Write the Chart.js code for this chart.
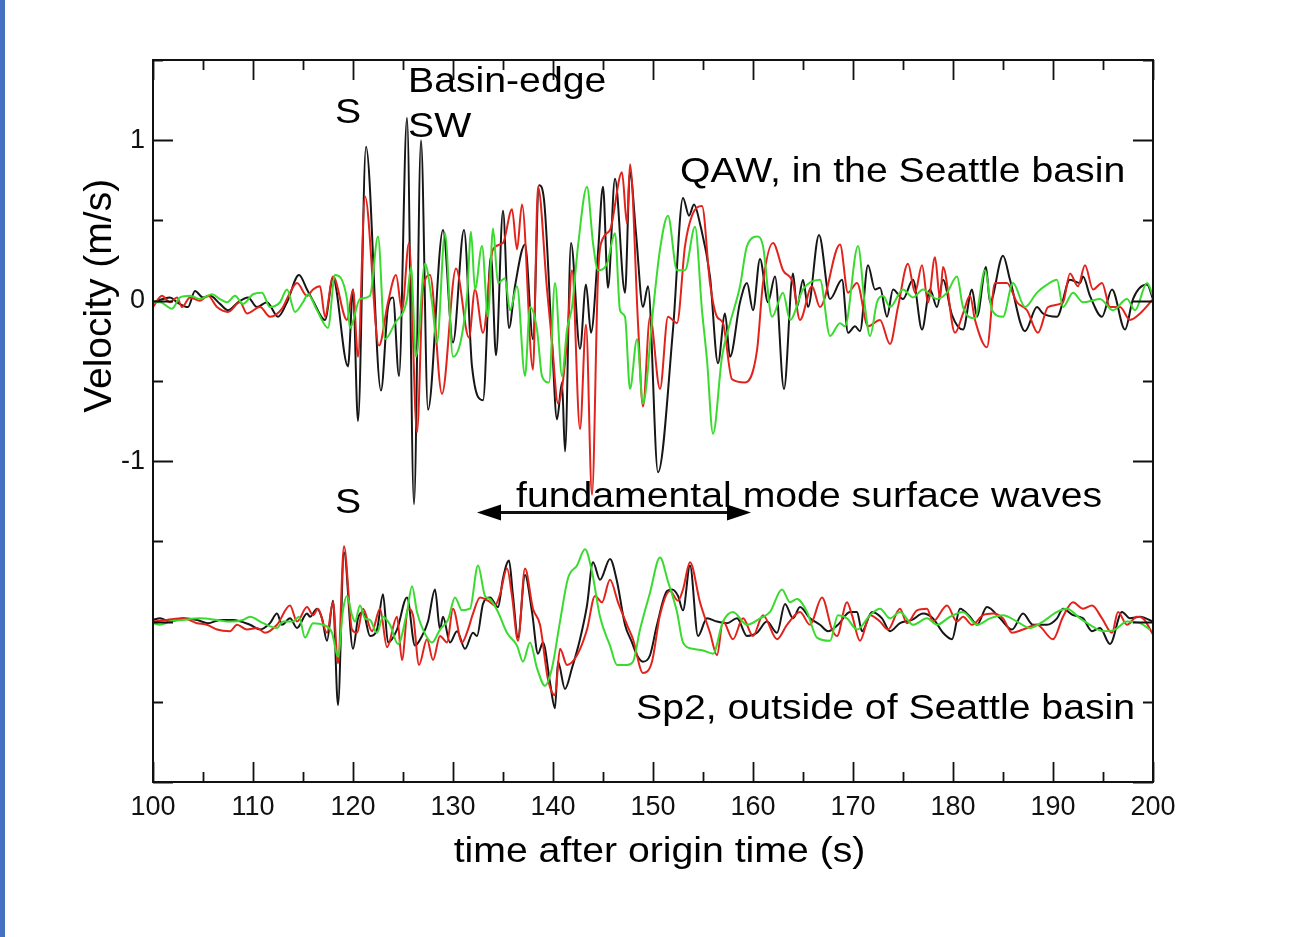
<!DOCTYPE html>
<html>
<head>
<meta charset="utf-8">
<title>QAW vs Sp2 velocity</title>
<script src="https://cdn.jsdelivr.net/npm/chart.js@4"></script>
<style>
  html, body { margin: 0; padding: 0; background: #fff; }
  #wrap { width: 1297px; height: 937px; }
</style>
</head>
<body>
<div id="wrap"><canvas id="seismo" width="1297" height="937"></canvas></div>
<script>
// =====================================
// DATA  (time s, velocity m/s)
// =====================================

const timeTickLabels = [100, 110, 120, 130, 140, 150, 160, 170, 180, 190, 200];
const velocityTickLabels = [1, 0, -1];

// Sp2 traces are plotted shifted down by this amount
const sp2Offset = -2;

// QAW, in the Seattle basin
const qawBlack = [
  [100,-0.01],[101,0.01],[101.7,0.02],[102.4,-0.01],[103.5,-0.04],[104.2,0.06],[105,0.02],[105.7,0.03],
  [106.7,-0.02],[107.5,-0.06],[108.5,-0.01],[109.5,0.02],[110.4,-0.04],[111.4,-0.01],[112.5,-0.1],[113.4,-0.01],
  [114.6,0.16],[115.4,0.07],[116,0],[117.2,-0.12],[118,0.14],[119.5,-0.41],[120,0.07],[120.5,-0.75],
  [121.3,0.96],[122.8,-0.56],[123.5,-0.04],[124,0.02],[124.6,-0.47],[125.4,1.14],[126.1,-1.27],[126.8,1.0],
  [127.5,-0.68],[129,0.44],[130,-0.26],[131.1,0.44],[131.9,-0.41],[133,-0.62],[133.8,0.28],[134.3,-0.34],
  [135,0.56],[135.6,-0.17],[136.2,0.09],[137.2,0.35],[138,-0.24],[138.6,0.72],[139.1,0.63],[139.9,-0.26],
  [140.4,-0.74],[140.9,-0.51],[141.2,-0.94],[141.8,0.36],[142.7,-0.3],[143.3,0.1],[143.8,-0.2],[144.5,0.3],
  [145,0.71],[145.5,0.08],[146.2,0.76],[147.2,0.05],[147.7,0.8],[148.3,0.42],[149,-0.04],[149.5,0.09],
  [150.5,-1.07],[152,-0.18],[153,0.64],[153.6,0.53],[154.1,0.6],[154.7,0.48],[155.7,0.15],[156.5,-0.39],
  [157.2,-0.08],[157.7,-0.35],[158.7,-0.01],[159.4,0.11],[160,-0.06],[160.7,0.26],[161.5,-0.01],[162.2,0.15],
  [163.1,-0.55],[164,0.17],[164.4,-0.04],[165,0.13],[165.5,-0.04],[166.6,0.41],[167.7,0.01],[168.9,0.13],
  [169.5,-0.2],[170.2,-0.16],[170.7,-0.19],[171.5,0.22],[172.2,0.07],[172.7,0.08],[173.4,-0.1],[174,0.07],
  [175,0.01],[176,0.13],[176.9,-0.18],[177.7,0.07],[178.4,-0.04],[179,0.13],[179.9,-0.09],[181,-0.18],
  [181.9,0.07],[182.4,-0.1],[183.3,0.21],[183.7,-0.01],[185,0.28],[185.7,0.13],[187.2,-0.19],[188.4,-0.04],
  [189,-0.08],[190.4,-0.1],[191.7,0.13],[192.7,0.11],[193,0.15],[193.7,0.03],[194.9,-0.1],[195.9,0.07],
  [197.2,-0.18],[198,0.01],[199.4,0.1],[200,0.01]
];

const qawRed = [
  [100,-0.04],[100.9,0.03],[101.7,-0.01],[102.4,0.02],[102.9,-0.04],[103.7,0.02],[104.7,0],[105.5,0.03],
  [106.4,-0.04],[107.5,-0.07],[108.7,-0.01],[109.4,-0.08],[110.7,-0.04],[111.7,-0.1],[112.9,-0.05],[113.7,0.05],
  [114.4,0.11],[115.4,0.03],[116,0.07],[116.7,0.09],[117.2,-0.1],[118,0.15],[119.4,-0.12],[120,0.07],
  [120.5,-0.35],[121.2,0.65],[122.6,-0.28],[123.5,-0.01],[124.3,0.16],[124.9,-0.06],[125.6,0.36],[126.4,-0.82],
  [127,0.07],[127.7,0.16],[128.9,-0.58],[130.3,0.2],[131.6,-0.23],[132.2,0.07],[133,-0.2],[134,0.32],
  [135,0.36],[135.9,0.57],[136.4,0.32],[136.9,0.6],[138,-0.43],[138.5,0.71],[139.4,0.07],[139.9,-0.26],
  [140.5,-0.64],[141.4,-0.26],[141.9,0.19],[142.7,-0.8],[143.3,-0.15],[143.9,-1.21],[144.5,0.15],[145,0.39],
  [145.7,0.44],[146.9,0.8],[147.4,0.48],[147.7,0.85],[148.5,-0.14],[149,-0.66],[149.7,-0.1],[150.7,-0.55],
  [151.5,-0.1],[152.4,-0.14],[153.2,0.34],[153.9,0.53],[154.9,0.59],[155.7,0.11],[156.4,-0.1],[157,-0.14],
  [157.9,-0.49],[159.2,-0.51],[160.4,-0.31],[161,0.11],[162,0.36],[163,0.19],[164,0.11],[164.7,-0.12],
  [165.9,0.09],[166.7,-0.04],[168.7,0.35],[169.5,0.05],[170.4,0.11],[171.5,-0.16],[172.7,-0.12],[173.7,-0.27],
  [174.5,-0.04],[175.5,0.23],[176.2,0.05],[176.9,0.22],[177.5,-0.01],[178.2,0.27],[178.7,0.01],[179,0.21],
  [180.2,-0.2],[181,-0.08],[181.7,0.03],[182.2,-0.12],[183.4,-0.29],[184.2,0.11],[185.4,0.11],[186.4,-0.01],
  [187.4,-0.06],[188.5,-0.2],[189.5,-0.04],[191,-0.01],[191.7,0.17],[192.5,0.09],[193.2,0.22],[194,0.07],
  [194.9,0.11],[195.7,-0.04],[196.7,-0.04],[197.7,-0.12],[198.7,-0.08],[200,0.01]
];

const qawGreen = [
  [100,-0.01],[100.7,-0.01],[101.9,-0.05],[102.7,0.02],[103.7,0.03],[104.7,0.01],[105.9,0.04],[106.7,0.01],
  [107.4,-0.01],[108.2,0.03],[109,-0.02],[110,0.04],[110.9,0.05],[111.7,-0.04],[112.7,-0.01],[113.4,0.07],
  [114.2,-0.07],[115,-0.01],[115.5,0.04],[116.4,-0.06],[117.5,-0.17],[118.2,0.16],[119.4,0.01],[119.7,-0.17],
  [120.7,0.01],[121.7,0.03],[122.5,0.4],[123.2,-0.24],[124.2,-0.14],[125.4,0.01],[125.8,0.21],[126.3,-0.35],
  [127.2,0.23],[127.9,-0.01],[128.4,-0.26],[129.2,0.42],[130,-0.35],[131.4,0.03],[131.8,0.43],[132.2,0.07],
  [132.9,0.34],[133.5,-0.1],[134,0.45],[134.5,0.11],[135.2,0.14],[135.7,-0.06],[136.4,0.09],[137.2,-0.47],
  [137.7,-0.04],[138.4,-0.18],[138.9,-0.47],[139.6,-0.51],[140.2,0.11],[140.9,-0.47],[141.4,-0.18],[141.9,-0.04],
  [142.5,0.34],[143.4,0.71],[144,0.36],[144.5,0.19],[145.4,0.23],[146.2,0.42],[146.7,-0.06],[147.2,-0.1],
  [147.7,-0.55],[148.4,-0.24],[149,-0.64],[150,-0.06],[150.7,0.32],[151.5,0.53],[152.4,0.19],[153.2,0.19],
  [154.2,0.46],[154.9,-0.06],[155.4,-0.37],[156,-0.83],[156.9,-0.35],[157.7,-0.14],[158.7,0.09],[159.4,0.34],
  [160.5,0.4],[161,0.34],[161.9,-0.1],[163,0.05],[163.7,-0.12],[165,0.07],[166.7,0.13],[167.7,-0.22],
  [168.7,-0.14],[169.2,-0.16],[170.5,0.34],[171.2,-0.04],[171.7,-0.22],[172.4,-0.01],[173,0.03],[173.7,-0.04],
  [175,0.07],[176,0.02],[177,0.07],[178.4,0.01],[179.4,0.05],[180.4,0.15],[181,-0.04],[182.2,-0.11],
  [183.2,0.19],[183.9,-0.06],[185,-0.1],[186,0.11],[187.2,-0.04],[188.4,0.05],[189.4,0.1],[190.4,0.13],
  [191,-0.04],[192,0.05],[193,-0.01],[194.7,0.01],[196,-0.06],[197.4,0.01],[198.2,-0.06],[199.4,0.11],[200,0.03]
];

// Sp2, outside of Seattle basin
const sp2Black = [
  [100,0.01],[100.7,0.02],[101.7,0],[103,0.02],[104.4,0.01],[105.5,-0.01],[106.7,0.01],[108,0.01],
  [109.7,-0.02],[110.7,-0.05],[111.7,-0.01],[112.4,0.05],[112.9,-0.02],[113.7,0.02],[114.4,-0.04],[115.4,0.05],
  [115.7,0.03],[116.4,0.08],[116.9,0.02],[117.4,-0.12],[118,0.13],[118.5,-0.52],[119.1,0.43],[120,-0.17],
  [120.5,0.02],[121,0.06],[121.7,-0.09],[122.4,-0.05],[123,0.17],[123.5,-0.13],[124.4,-0.05],[125.4,0.15],
  [126.2,-0.15],[126.9,-0.09],[127.5,0],[128.2,0.2],[128.7,-0.05],[129,0.03],[129.7,-0.13],[130.4,-0.06],
  [131.2,-0.17],[132,-0.07],[132.4,-0.09],[133,0.11],[133.7,0.15],[134.5,0.09],[135,0.27],[135.6,0.38],
  [136,0.16],[136.5,-0.1],[137.2,0.29],[137.9,0.06],[138.5,-0.2],[139,-0.13],[139.7,-0.38],[140.2,-0.54],
  [140.5,-0.25],[141.2,-0.42],[141.9,-0.29],[142.7,-0.11],[143.4,0.1],[144,0.37],[144.7,0.26],[145.7,0.39],
  [146.4,0.25],[147.2,-0.02],[147.9,-0.13],[148.4,-0.21],[149,-0.25],[149.7,-0.21],[150.4,-0.02],[151.4,0.19],
  [151.9,0.2],[152.5,0.16],[153,0.07],[153.7,0.35],[154.5,-0.09],[155.4,0.02],[156.4,0],[157.4,-0.01],
  [158.4,0.02],[159.4,-0.09],[160.4,-0.07],[161.4,0],[162.4,-0.07],[163.2,0.11],[164,0.02],[164.7,0.09],
  [165.7,0.02],[166.7,-0.02],[167.5,-0.06],[168.5,-0.02],[169.7,0.06],[170.4,0.06],[170.9,-0.06],[171.9,0.06],
  [172.9,0.02],[173.7,-0.06],[174.7,-0.01],[175.9,0.01],[177,0.05],[178,0.02],[179,-0.07],[179.9,-0.11],
  [180.7,0.08],[181.7,0.03],[182.4,-0.02],[183.4,0.09],[184.7,0.02],[185.9,-0.05],[187,0.05],[188,-0.02],
  [189.4,-0.02],[190.4,0.02],[191,0.08],[192,0.04],[193,0.02],[193.9,-0.06],[194.7,-0.04],[195.7,-0.14],
  [196.9,0.06],[197.7,0.02],[198.7,0.03],[200,0]
];

const sp2Red = [
  [100,0],[101.4,0.01],[103,0.02],[104.4,-0.01],[105.4,-0.02],[106.4,-0.05],[107.7,-0.06],[108.4,-0.02],
  [109.4,-0.05],[110.4,-0.04],[111.2,-0.07],[112.4,-0.02],[113.7,0.1],[114.4,0],[115.4,0.09],[116,0.04],
  [116.5,0.08],[117.4,-0.07],[118,0.12],[118.5,-0.26],[119.1,0.47],[119.9,-0.05],[120.4,-0.07],[121,0.08],
  [121.9,-0.06],[122.7,0.08],[123.4,-0.16],[124.4,0.03],[124.9,-0.24],[125.5,0.08],[126,0.04],[126.6,-0.27],
  [127.4,-0.11],[128,-0.24],[128.7,-0.09],[129.4,-0.13],[130,0.08],[130.9,-0.13],[131.5,-0.05],[132,0.05],
  [132.7,0.15],[133.5,0.13],[134.2,0.1],[134.7,0.17],[135.4,0.33],[135.9,0.16],[136.5,-0.12],[137.2,0.33],
  [138,0.08],[138.7,-0.02],[139.5,-0.36],[140.2,-0.46],[140.7,-0.17],[141.4,-0.27],[142.4,-0.21],[143.4,-0.05],
  [144.2,0.16],[144.9,0.12],[145.7,0.26],[146.5,0.12],[147.4,-0.02],[148,-0.11],[149,-0.32],[149.9,-0.25],
  [150.7,0.04],[151.7,0.19],[152.5,0.13],[153,0.2],[153.7,0.37],[154.7,0.12],[155.7,-0.07],[156.4,-0.21],
  [157,0],[158,-0.11],[159,0.02],[160,-0.09],[161,0.04],[162.4,-0.11],[163.4,-0.02],[164.7,0.06],
  [165.7,-0.02],[166.9,0.15],[167.9,-0.05],[168.4,-0.09],[169.4,0.12],[169.9,0.04],[170.7,-0.12],[171.7,0.04],
  [172.7,0],[173.5,-0.05],[174.7,0.08],[175.4,-0.01],[176.4,0.07],[177.4,0.08],[178,0],[179.4,0.1],
  [180.4,0],[181,0.03],[181.9,-0.02],[183,0.04],[184,0.05],[185,0.02],[185.9,-0.07],[187,-0.05],
  [188.4,-0.02],[190,-0.11],[191,0.03],[192,0.12],[193,0.08],[193.9,0.1],[194.9,0.02],[195.9,-0.07],
  [196.5,0.06],[197.4,-0.02],[198.4,0.03],[199,0.02],[200,-0.08]
];

const sp2Green = [
  [100,-0.01],[100.7,-0.02],[101.7,0],[103,0.01],[104.7,0.02],[106.4,0.01],[107.7,0],[109,0.01],
  [109.7,0.03],[111,-0.01],[112.4,-0.04],[113,0],[114,0],[114.6,0.03],[115.2,-0.1],[116,-0.01],
  [117,-0.02],[117.9,-0.07],[118.5,-0.22],[119,0.07],[119.4,0.16],[119.9,0.04],[120.2,0],[120.7,0.1],
  [121.2,0.02],[121.7,0.01],[122.4,-0.07],[123,0.03],[123.7,-0.02],[124.5,-0.14],[125.4,0.06],[125.9,0.22],
  [126.4,0.06],[127,-0.05],[127.9,-0.13],[128.7,-0.05],[129.5,0.01],[130.2,0.15],[130.9,0.07],[131.7,0.08],
  [132.5,0.35],[133.2,0.16],[133.7,0.14],[134.5,0.06],[135.4,-0.07],[136.4,-0.15],[137,-0.25],[137.7,-0.13],
  [138.4,-0.29],[139.2,-0.4],[139.9,-0.29],[140.7,0],[141.5,0.27],[142.4,0.35],[143.2,0.45],[143.9,0.31],
  [144.7,0.03],[145.7,-0.15],[146.4,-0.27],[147.4,-0.27],[148,-0.25],[148.7,-0.05],[149.7,0.18],[150.7,0.4],
  [151.5,0.25],[152.4,0.06],[153,-0.13],[154,-0.17],[155,-0.18],[156,-0.2],[157,0],[158,0.06],
  [159.4,-0.02],[160.7,0.02],[161.7,0.06],[162.9,0.2],[163.7,0.12],[164.4,0.14],[165.4,0.06],[166.4,-0.1],
  [167.7,-0.12],[168.5,0.04],[169.4,0.02],[170.4,-0.05],[171.7,0.04],[172.7,0.08],[173.7,0.02],[174.7,0.06],
  [176,-0.02],[177.4,0.02],[178.4,-0.02],[179.7,0.03],[181,0.06],[182.4,-0.02],[183.7,0.02],[185,0.04],
  [186.4,0],[187.7,-0.04],[189,0],[190.4,0.06],[191.4,0.08],[192.7,0.02],[193.7,-0.02],[195,-0.06],
  [196.2,-0.05],[197.4,0],[198.7,-0.01],[199.7,-0.05]
];


// =====================================
// STYLE
// =====================================

const FONT = "'Liberation Sans', Arial, Helvetica, sans-serif";
const BLACK = "#161616";
const RED = "#e2231c";
const GREEN = "#38db2e";


function toPoints(trace, offset){

    return trace.map(([t, v]) => ({ x: t, y: v + offset }));

}


function traceDataset(trace, color, offset){

    return {
        data: toPoints(trace, offset),
        borderColor: color,
        borderWidth: 2,
        pointRadius: 0,
        fill: false,
        cubicInterpolationMode: "monotone"
    };

}


function wideText(ctx, text, x, y, size, align, sx){

    ctx.save();
    ctx.translate(x, y);
    ctx.scale(sx, 1);
    ctx.font = size + "px " + FONT;
    ctx.textAlign = align;
    ctx.textBaseline = "alphabetic";
    ctx.fillStyle = "#000";
    ctx.fillText(text, 0, 0);
    ctx.restore();

}


// =====================================
// FRAME, INNER TICKS, ARROW, LABELS
// =====================================

const seismoDecor = {

    id: "seismoDecor",

    beforeDraw(chart){

        const ctx = chart.ctx;

        ctx.save();
        ctx.fillStyle = "#ffffff";
        ctx.fillRect(0, 0, chart.width, chart.height);
        ctx.fillStyle = "#4670c2";
        ctx.fillRect(0, 0, 5, chart.height);
        ctx.restore();

    },

    afterDraw(chart){

        const ctx = chart.ctx;
        const area = chart.chartArea;
        const xs = chart.scales.x;
        const ys = chart.scales.y;

        ctx.save();

        // box
        ctx.strokeStyle = "#111";
        ctx.lineWidth = 2;
        ctx.strokeRect(area.left, area.top, area.right - area.left, area.bottom - area.top);

        // ticks pointing inward on all four sides
        ctx.lineWidth = 1.8;
        ctx.beginPath();

        for(let t = 100; t <= 200; t += 5){

            const px = Math.round(xs.getPixelForValue(t)) + 0.5;
            const len = (t % 10 === 0) ? 20 : 10;

            ctx.moveTo(px, area.bottom);
            ctx.lineTo(px, area.bottom - len);
            ctx.moveTo(px, area.top);
            ctx.lineTo(px, area.top + len);

        }

        for(let v = -3; v <= 1.5; v += 0.5){

            const py = Math.round(ys.getPixelForValue(v)) + 0.5;
            const len = Number.isInteger(v) ? 20 : 10;

            ctx.moveTo(area.left, py);
            ctx.lineTo(area.left + len, py);
            ctx.moveTo(area.right, py);
            ctx.lineTo(area.right - len, py);

        }

        ctx.stroke();

        // double-headed arrow under "fundamental mode surface waves"
        const ay = ys.getPixelForValue(-1.321);
        const ax1 = xs.getPixelForValue(132.4);
        const ax2 = xs.getPixelForValue(159.8);

        ctx.lineWidth = 3;
        ctx.beginPath();
        ctx.moveTo(ax1 + 10, ay);
        ctx.lineTo(ax2 - 10, ay);
        ctx.stroke();

        ctx.fillStyle = "#000";
        ctx.beginPath();
        ctx.moveTo(ax1, ay);
        ctx.lineTo(ax1 + 24, ay - 8);
        ctx.lineTo(ax1 + 24, ay + 8);
        ctx.closePath();
        ctx.moveTo(ax2, ay);
        ctx.lineTo(ax2 - 24, ay - 8);
        ctx.lineTo(ax2 - 24, ay + 8);
        ctx.closePath();
        ctx.fill();

        ctx.restore();

        // annotations
        wideText(ctx, "S", xs.getPixelForValue(119.5), ys.getPixelForValue(1.109), 35, "center", 1.12);
        wideText(ctx, "Basin-edge", xs.getPixelForValue(125.5), ys.getPixelForValue(1.302), 35, "left", 1.12);
        wideText(ctx, "SW", xs.getPixelForValue(125.5), ys.getPixelForValue(1.022), 35, "left", 1.12);
        wideText(ctx, "QAW, in the Seattle basin", xs.getPixelForValue(152.7), ys.getPixelForValue(0.741), 35, "left", 1.12);
        wideText(ctx, "S", xs.getPixelForValue(119.5), ys.getPixelForValue(-1.321), 35, "center", 1.12);
        wideText(ctx, "fundamental mode surface waves", xs.getPixelForValue(136.3), ys.getPixelForValue(-1.283), 35, "left", 1.12);
        wideText(ctx, "Sp2, outside of Seattle basin", xs.getPixelForValue(148.3), ys.getPixelForValue(-2.61), 35, "left", 1.12);

        // axis titles
        wideText(ctx, "time after origin time (s)", xs.getPixelForValue(150.65), area.bottom + 80, 35, "center", 1.12);

        ctx.save();
        ctx.translate(111, ys.getPixelForValue(0.03));
        ctx.rotate(-Math.PI / 2);
        ctx.font = "39px " + FONT;
        ctx.textAlign = "center";
        ctx.textBaseline = "alphabetic";
        ctx.fillStyle = "#000";
        ctx.fillText("Velocity (m/s)", 0, 0);
        ctx.restore();

    }

};


// =====================================
// CHART
// =====================================

document.addEventListener("DOMContentLoaded", () => {

    const canvas = document.getElementById("seismo");

    new Chart(canvas, {

        type: "line",

        data: {
            datasets: [
                traceDataset(qawGreen, GREEN, 0),
                traceDataset(qawRed, RED, 0),
                traceDataset(qawBlack, BLACK, 0),
                traceDataset(sp2Green, GREEN, sp2Offset),
                traceDataset(sp2Red, RED, sp2Offset),
                traceDataset(sp2Black, BLACK, sp2Offset)
            ]
        },

        options: {

            responsive: false,
            animation: false,
            events: [],

            layout: {
                padding: { left: 0, top: 60, right: 144, bottom: 55 }
            },

            plugins: {
                legend: { display: false },
                tooltip: { enabled: false }
            },

            scales: {

                x: {
                    type: "linear",
                    min: 100,
                    max: 200,
                    border: { display: false },
                    grid: { display: false, drawTicks: false },
                    afterBuildTicks: scale => {
                        scale.ticks = timeTickLabels.map(v => ({ value: v }));
                    },
                    afterFit: scale => { scale.height = 100; },
                    ticks: {
                        color: "#111",
                        padding: 9,
                        maxRotation: 0,
                        autoSkip: false,
                        font: { family: FONT, size: 27 }
                    }
                },

                y: {
                    type: "linear",
                    min: -3,
                    max: 1.5,
                    border: { display: false },
                    grid: { display: false, drawTicks: false },
                    afterBuildTicks: scale => {
                        scale.ticks = velocityTickLabels.map(v => ({ value: v }));
                    },
                    afterFit: scale => { scale.width = 153; },
                    ticks: {
                        color: "#111",
                        padding: 8,
                        font: { family: FONT, size: 27 }
                    }
                }

            }

        },

        plugins: [seismoDecor]

    });

});
</script>
</body>
</html>
